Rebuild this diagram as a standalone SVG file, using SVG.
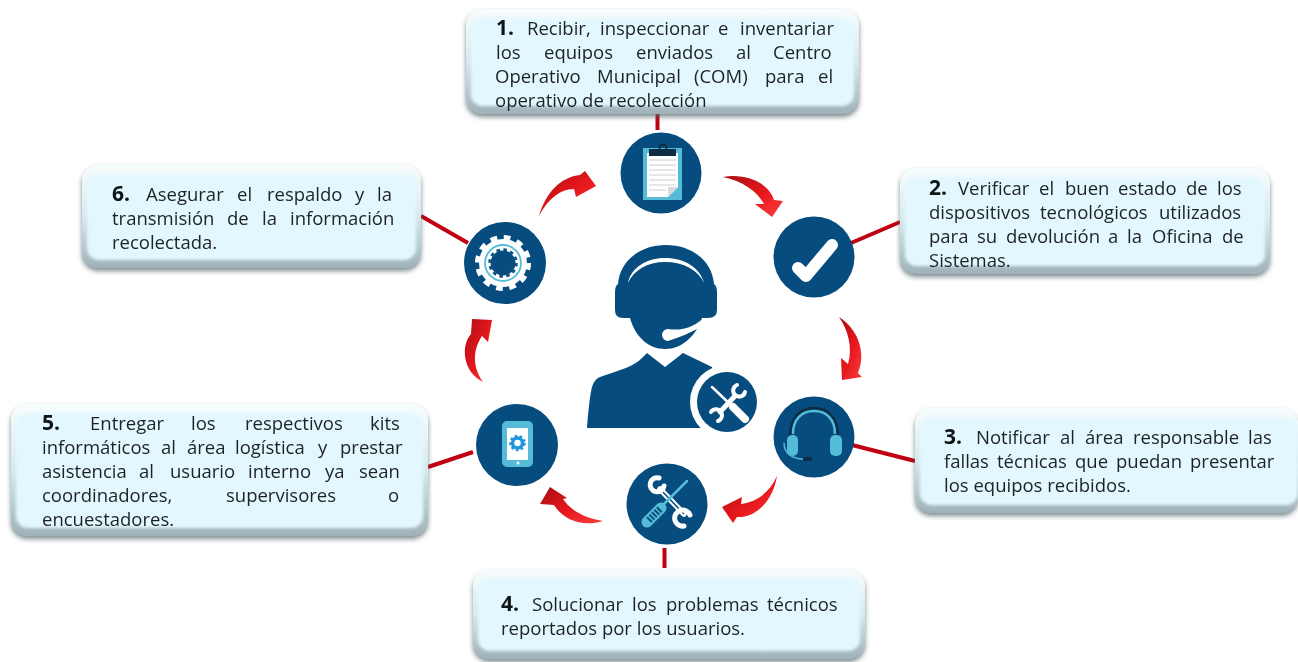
<svg xmlns="http://www.w3.org/2000/svg" width="1298" height="662" viewBox="0 0 1298 662">
<style>
text{font-family:"Open Sans","Noto Sans","Liberation Sans",sans-serif;font-size:18.5px;fill:#1e2224;filter:url(#soft)}
.n{font-weight:700;font-size:21px;fill:#101214}
.box{fill:url(#edge);filter:url(#sh)}
.in{fill:#e3f8fe;filter:url(#bl)}
.c{fill:#064c7e}
.con{stroke:#c00012;stroke-width:4;fill:none}
.arr{fill:url(#red)}
.wh{fill:none;stroke:#fff;stroke-linecap:round}
.cy{fill:none;stroke:#55bcd8}
</style>
<defs>
<linearGradient id="edge" x1="0" y1="0" x2="0" y2="1"><stop offset="0" stop-color="#f8fdfe"/><stop offset=".5" stop-color="#d5e9ef"/><stop offset="1" stop-color="#9fb2b9"/></linearGradient>
<linearGradient id="red" x1="0" y1="0" x2="1" y2="1"><stop offset="0" stop-color="#a80d12"/><stop offset=".55" stop-color="#e8181d"/><stop offset="1" stop-color="#f8403f"/></linearGradient>
<filter id="sh" x="-5%" y="-10%" width="110%" height="125%"><feDropShadow dx="0" dy="3" stdDeviation="2.500" flood-color="#55666c" flood-opacity=".75"/></filter>
<filter id="bl" x="-5%" y="-10%" width="110%" height="120%"><feGaussianBlur stdDeviation="1.600"/></filter>
<filter id="soft" x="-2%" y="-10%" width="104%" height="120%"><feGaussianBlur stdDeviation=".3"/></filter>
</defs>
<rect width="1298" height="662" fill="#fff"/>

<g id="connectors">
<path class="con" d="M657.500,114V130"/>
<path class="con" d="M851,243L900,222"/>
<path class="con" d="M852,445L915,461"/>
<path class="con" d="M664.500,548V568"/>
<path class="con" d="M428,467L473,452"/>
<path class="con" d="M421,216L468,243"/>
<path class="arr" d="M723,177C746,173 769,183 774,200L783,201L772,217L755,204L764,204C757,191 742,181 723,177Z"/>
<path class="arr" d="M839,317C857,328 867,352 858,373L862,377L842,380L841,358L848,364C853,348 848,330 839,317Z"/>
<path class="arr" d="M777,476C773,501 756,518 737,517L733,523L722,507L742,497L741,504C757,502 770,492 777,476Z"/>
<path class="arr" d="M603,521C584,527 564,521 554,505L540,504L550,487L567,498L563,499C571,511 585,518 603,521Z"/>
<path class="arr" d="M483,382C462,371 461,345 471,334L472,319L492,320L488,342L482,336C472,351 473,368 483,382Z"/>
<path class="arr" d="M539,216C546,192 561,177 580,175L585,171L596,186L576,197L574,189C560,189 548,199 539,216Z"/>
</g>

<g id="person">
<path class="c" d="M618,284C620,260 641,245 666,245C691,245 712,260 714,284Q717,286 717,292L717,310Q717,318 708,318L702,318C696,336 682,349 665,349C648,349 635,336 630,318L623,318Q615,318 615,310L615,292Q615,286 618,284Z"/>
<path fill="#fff" d="M628,283C631,268 646,258 665,258C685,258 700,268 704,283C698,270 684,262 665,262C647,262 634,270 628,283Z"/>
<path fill="#fff" d="M668,329C680,331 692,328 701,320L699,328C690,333 680,337 668,341A6,6 0 0 1 668,329Z"/>
<path class="c" d="M647,353L665,367L683,353L712,367L712,428L587,428C589,405 590,395 592,387C594,381 597,378 600,377C620,370 635,366 642,358Z"/>
<circle cx="727" cy="402" r="37" fill="#fff"/>
<circle class="c" cx="727" cy="402" r="30"/>
<path class="wh" stroke-width="2.500" d="M712,387L733,407"/>
<path class="wh" stroke-width="8" d="M733,407L745,419"/>
<path class="wh" stroke-width="5" d="M720,412L735,396"/>
<path class="wh" stroke-width="4" d="M737,385A6,6 0 1 0 745,392"/>
<path class="wh" stroke-width="4" d="M711,412A6,6 0 1 1 718,421"/>
</g>

<g id="node1">
<rect class="box" x="466" y="9" width="393" height="105" rx="16"/>
<rect class="in" x="471" y="18" width="383" height="88" rx="12"/>
<text y="35"><tspan class="n" x="496">1. </tspan><tspan x="527">Recibir, </tspan><tspan x="600">inspeccionar </tspan><tspan x="718">e </tspan><tspan x="740">inventariar</tspan></text>
<text y="59"><tspan x="496">los </tspan><tspan x="544">equipos </tspan><tspan x="636">enviados </tspan><tspan x="736">al </tspan><tspan x="773">Centro</tspan></text>
<text y="83"><tspan x="495">Operativo </tspan><tspan x="597">Municipal </tspan><tspan x="694">(COM) </tspan><tspan x="765">para </tspan><tspan x="818">el</tspan></text>
<text x="495" y="107">operativo de recolección</text>
<circle class="c" cx="661" cy="173" r="40.500"/>
<rect x="643" y="148" width="39" height="52" fill="#55bcd8"/>
<path fill="#fff" d="M647,153H678V187L668,197H647Z"/>
<path fill="none" stroke="#c9cdd2" stroke-width="1.200" d="M649,160H676M649,165H676M649,170H676M649,175H676M649,180H676M649,185H676M649,190H666"/>
<path fill="#d7dbde" d="M678,187L668,197V187Z"/>
<rect x="649" y="149" width="27" height="7" fill="#0d2d45"/>
<circle cx="663" cy="148" r="3.500" fill="none" stroke="#0d2d45" stroke-width="2"/>
</g>

<g id="node2">
<rect class="box" x="900" y="168" width="370" height="106" rx="16"/>
<rect class="in" x="905" y="177" width="360" height="89" rx="12"/>
<text y="195"><tspan class="n" x="929">2. </tspan><tspan x="958">Verificar </tspan><tspan x="1039">el </tspan><tspan x="1065">buen </tspan><tspan x="1118">estado </tspan><tspan x="1186">de </tspan><tspan x="1217">los</tspan></text>
<text y="219"><tspan x="929">dispositivos </tspan><tspan x="1040">tecnológicos </tspan><tspan x="1159">utilizados</tspan></text>
<text y="243"><tspan x="929">para </tspan><tspan x="977">su </tspan><tspan x="1006">devolución </tspan><tspan x="1108">a </tspan><tspan x="1127">la </tspan><tspan x="1152">Oficina </tspan><tspan x="1222">de</tspan></text>
<text x="929" y="267">Sistemas.</text>
<circle class="c" cx="814" cy="257" r="40.500"/>
<path class="wh" stroke-width="12" stroke-linejoin="round" d="M798,268L806,276L832,245"/>
</g>

<g id="node3">
<rect class="box" x="915" y="408" width="383" height="105" rx="16"/>
<rect class="in" x="920" y="417" width="378" height="88" rx="12"/>
<text y="444"><tspan class="n" x="944">3. </tspan><tspan x="976">Notificar </tspan><tspan x="1060">al </tspan><tspan x="1085">área </tspan><tspan x="1133">responsable </tspan><tspan x="1248">las</tspan></text>
<text y="468"><tspan x="944">fallas </tspan><tspan x="997">técnicas </tspan><tspan x="1075">que </tspan><tspan x="1116">puedan </tspan><tspan x="1190">presentar</tspan></text>
<text x="944" y="492">los equipos recibidos.</text>
<circle class="c" cx="814" cy="437" r="40.500"/>
<path fill="none" stroke="#0d2d45" stroke-width="2.500" d="M790,437C790,418 800,408 814,408C828,408 838,418 838,437"/>
<path class="cy" stroke-width="2.500" d="M793,434C793,419 802,411 814,411C826,411 835,419 835,434"/>
<rect x="787" y="435" width="11" height="21" rx="5" fill="#55bcd8"/>
<rect x="830" y="435" width="12" height="21" rx="5" fill="#55bcd8"/>
<path class="cy" stroke-width="1.500" d="M784,443C784,453 792,459 803,459"/>
<rect x="803" y="457" width="9" height="4" rx="1" fill="#0d2d45"/>
</g>

<g id="node4">
<rect class="box" x="473" y="570" width="392" height="89" rx="16"/>
<rect class="in" x="478" y="578" width="382" height="73" rx="12"/>
<text y="611"><tspan class="n" x="501">4. </tspan><tspan x="532">Solucionar </tspan><tspan x="632">los </tspan><tspan x="666">problemas </tspan><tspan x="767">técnicos</tspan></text>
<text x="501" y="635">reportados por los usuarios.</text>
<circle class="c" cx="667" cy="504" r="40.500"/>
<path class="wh" stroke-width="5.500" d="M660,489L684,514"/>
<path stroke="#064c7e" stroke-width="1.500" d="M660,489L684,514"/>
<path class="wh" stroke-width="5" d="M659,478A7,7 0 1 0 664,486"/>
<path class="wh" stroke-width="5" d="M690,515A8,8 0 1 0 684,526"/>
<path class="cy" stroke-width="2.500" stroke-linecap="round" d="M687,481L662,506"/>
<path class="cy" stroke-width="11" stroke-linecap="round" d="M661,508L647,522"/>
<path stroke="#064c7e" stroke-width="7" stroke-dasharray="2 1.500" d="M660,509L648,521"/>
</g>

<g id="node5">
<rect class="box" x="11" y="404" width="417" height="132" rx="16"/>
<rect class="in" x="16" y="413" width="407" height="115" rx="12"/>
<text y="430"><tspan class="n" x="42">5. </tspan><tspan x="90">Entregar </tspan><tspan x="191">los </tspan><tspan x="245">respectivos </tspan><tspan x="370">kits</tspan></text>
<text y="454"><tspan x="42">informáticos </tspan><tspan x="161">al </tspan><tspan x="187">área </tspan><tspan x="235">logística </tspan><tspan x="318">y </tspan><tspan x="340">prestar</tspan></text>
<text y="478"><tspan x="42">asistencia </tspan><tspan x="139">al </tspan><tspan x="170">usuario </tspan><tspan x="248">interno </tspan><tspan x="325">ya </tspan><tspan x="359">sean</tspan></text>
<text y="502"><tspan x="42">coordinadores, </tspan><tspan x="226">supervisores </tspan><tspan x="388">o</tspan></text>
<text x="42" y="526">encuestadores.</text>
<circle class="c" cx="517" cy="445" r="41"/>
<rect x="502" y="421" width="31" height="46" rx="5" fill="#55bcd8"/>
<rect x="507" y="428" width="21" height="32" fill="#fff"/>
<circle cx="517.500" cy="443" r="5" fill="none" stroke="#1e96dc" stroke-width="3.500"/>
<circle cx="517.500" cy="443" r="7" fill="none" stroke="#1e96dc" stroke-width="2.500" stroke-dasharray="2.500 2.500"/>
<circle cx="518" cy="463" r="1.500" fill="#fff"/>
</g>

<g id="node6">
<rect class="box" x="82" y="165" width="339" height="103" rx="16"/>
<rect class="in" x="87" y="174" width="329" height="86" rx="12"/>
<text y="201"><tspan class="n" x="112">6. </tspan><tspan x="146">Asegurar </tspan><tspan x="237">el </tspan><tspan x="267">respaldo </tspan><tspan x="355">y </tspan><tspan x="377">la</tspan></text>
<text y="225"><tspan x="112">transmisión </tspan><tspan x="227">de </tspan><tspan x="262">la </tspan><tspan x="290">información</tspan></text>
<text x="112" y="249">recolectada.</text>
<circle class="c" cx="505" cy="263" r="41"/>
<circle cx="503" cy="263" r="24" fill="#fff"/>
<circle cx="503" cy="263" r="25.500" fill="none" stroke="#fff" stroke-width="5" stroke-dasharray="6.700 6.650"/>
<circle cx="503" cy="263" r="18" fill="none" stroke="#55bcd8" stroke-width="1.800"/>
<circle class="c" cx="503" cy="263" r="12.500"/>
<circle cx="503" cy="263" r="13.500" fill="none" stroke="#064c7e" stroke-width="2.500" stroke-dasharray="3.500 3.570"/>
</g>
</svg>
